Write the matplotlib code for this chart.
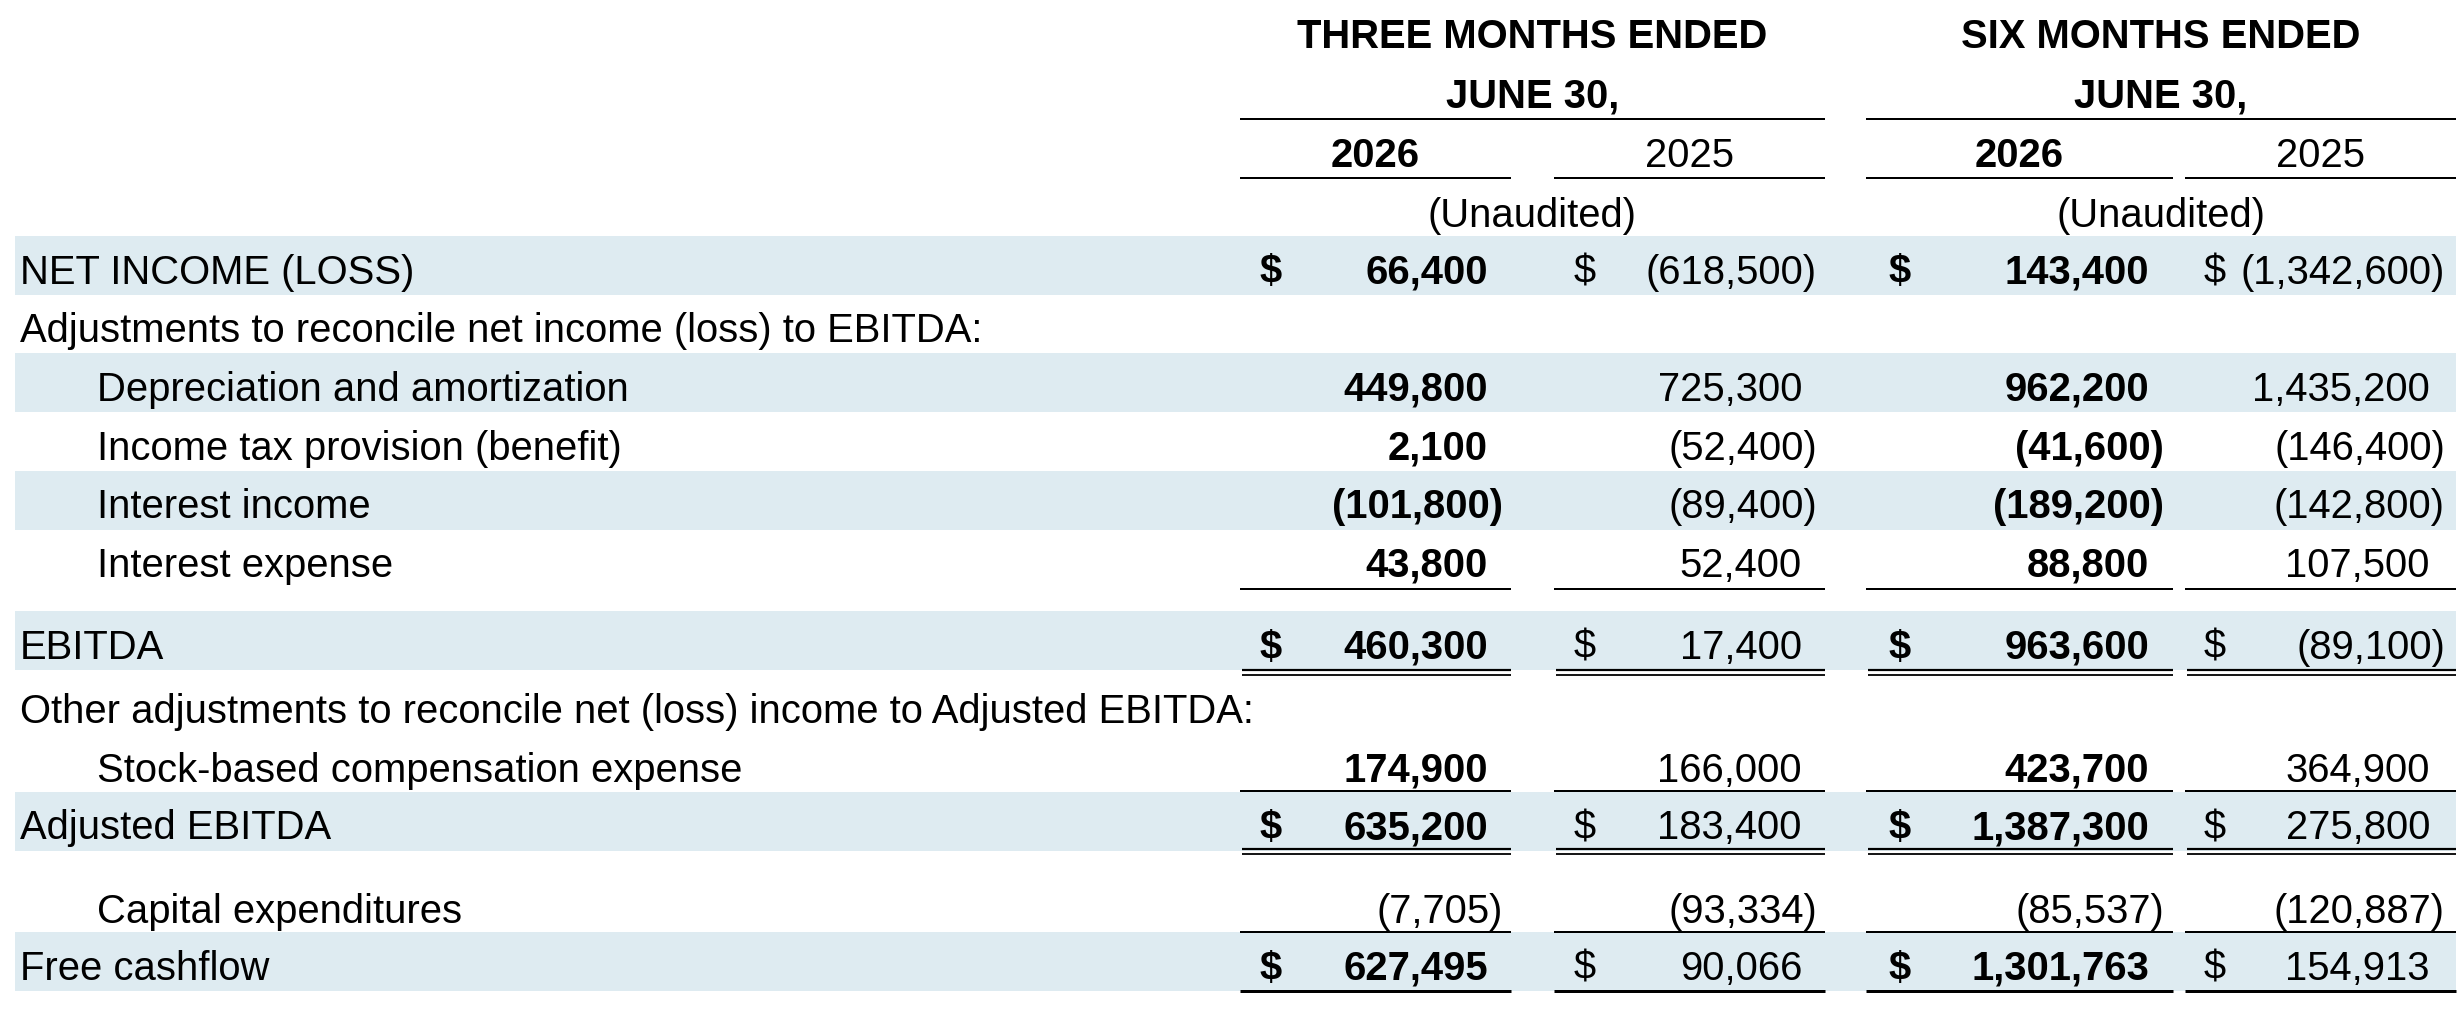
import matplotlib
matplotlib.use("Agg")
import matplotlib.pyplot as plt
from matplotlib import font_manager

# --- data -------------------------------------------------------------
group_titles = ["THREE MONTHS ENDED\nJUNE 30,", "SIX MONTHS ENDED\nJUNE 30,"]
years = ["2026", "2025", "2026", "2025"]
row_labels = [
    "NET INCOME (LOSS)",
    "Adjustments to reconcile net income (loss) to EBITDA:",
    "Depreciation and amortization",
    "Income tax provision (benefit)",
    "Interest income",
    "Interest expense",
    "EBITDA",
    "Other adjustments to reconcile net (loss) income to Adjusted EBITDA:",
    "Stock-based compensation expense",
    "Adjusted EBITDA",
    "Capital expenditures",
    "Free cashflow",
]
# values per row: [3m 2026, 3m 2025, 6m 2026, 6m 2025]
values = [
    [66400, -618500, 143400, -1342600],
    None,
    [449800, 725300, 962200, 1435200],
    [2100, -52400, -41600, -146400],
    [-101800, -89400, -189200, -142800],
    [43800, 52400, 88800, 107500],
    [460300, 17400, 963600, -89100],
    None,
    [174900, 166000, 423700, 364900],
    [635200, 183400, 1387300, 275800],
    [-7705, -93334, -85537, -120887],
    [627495, 90066, 1301763, 154913],
]
indented = [False, False, True, True, True, True, False, False, True, False, True, False]
dollar_rows = [0, 6, 9, 11]
shaded_rows = [0, 2, 4, 6, 9, 11]
plain_rows = [10]  # capex row is not bolded in the current-year columns

# --- layout (pixels) ---------------------------------------------------
W, H = 2461, 1010
row_y = [265.5, 324.2, 382.8, 441.5, 500.2, 558.8, 640.7, 705, 764, 821, 905, 961.7]
band_h = 59
col_span = [(1240, 1511), (1554, 1825), (1866, 2173), (2185, 2456)]
group_span = [(1240, 1825), (1866, 2456)]
dollar_x = [1271, 1585, 1900, 2215]
num_right = [1488, 1802, 2149, 2430]
paren_pad = 15
bold_cols = [0, 2]
band_color = "#DEEBF1"

try:
    font_manager.findfont("Liberation Sans Narrow", fallback_to_default=False)
    FONT, FS = "Liberation Sans Narrow", 33.8
except ValueError:
    FONT, FS = "Liberation Sans", 28.8
plt.rcParams["font.family"] = FONT

fig = plt.figure(figsize=(W / 100, H / 100), dpi=100)
ax = fig.add_axes([0, 0, 1, 1])
ax.set_xlim(0, W)
ax.set_ylim(H, 0)
ax.axis("off")

px = 72 / 100  # pixel -> points


def fmt(v):
    s = f"{abs(v):,}"
    return f"({s})" if v < 0 else s


# shaded bands
for r in shaded_rows:
    ax.axhspan(row_y[r] - band_h / 2, row_y[r] + band_h / 2, xmin=15 / W, xmax=2456 / W,
               color=band_color, lw=0, zorder=0)

# column headers
for g, (a, b) in enumerate(group_span):
    cx = (a + b) / 2
    t1, t2 = group_titles[g].split("\n")
    ax.text(cx, 48, t1, ha="center", va="baseline", fontsize=FS, fontweight="bold")
    ax.text(cx, 107, t2, ha="center", va="baseline", fontsize=FS, fontweight="bold")
    ax.hlines(119, a, b, color="black", lw=2 * px)
    ax.text(cx, 227, "(Unaudited)", ha="center", va="baseline", fontsize=FS)
for c, (a, b) in enumerate(col_span):
    ax.text((a + b) / 2, 167, years[c], ha="center", va="baseline", fontsize=FS,
            fontweight="bold" if c in bold_cols else "normal")
    ax.hlines(178, a, b, color="black", lw=2 * px)

# rows
for r, label in enumerate(row_labels):
    base = row_y[r] + 18
    ax.text(97 if indented[r] else 20, base, label, ha="left", va="baseline", fontsize=FS)
    if values[r] is None:
        continue
    for c, v in enumerate(values[r]):
        w = "bold" if (c in bold_cols and r not in plain_rows) else "normal"
        x = num_right[c] + (paren_pad if v < 0 else 0)
        ax.text(x, base, fmt(v), ha="right", va="baseline", fontsize=FS, fontweight=w)
        if r in dollar_rows:
            ax.text(dollar_x[c], base, "$", ha="center", va="baseline", fontsize=FS, fontweight=w)

# rules under totals
single_rules = [(589, 2), (791, 2), (932, 2), (991, 3)]
double_rules = [(670, 674.5), (849, 853.5)]
for a, b in col_span:
    for y, lw in single_rules:
        ax.hlines(y, a, b, color="black", lw=lw * px)
    for y1, y2 in double_rules:
        ax.hlines(y1, a + 2, b, color="black", lw=2.2 * px)
        ax.hlines(y2, a + 2, b, color="black", lw=1.8 * px)

fig.savefig("out.png", dpi=100)
